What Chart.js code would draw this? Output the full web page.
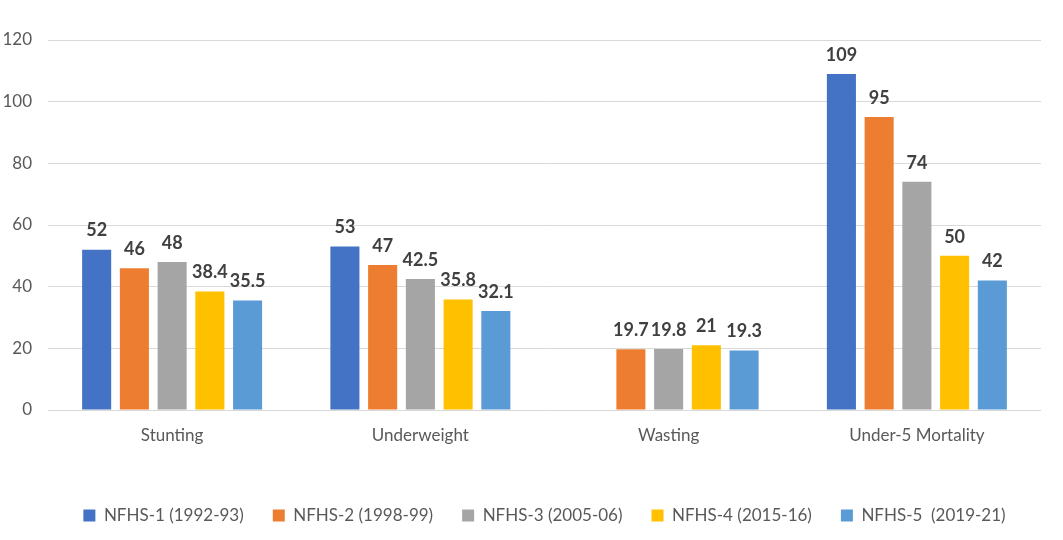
<!DOCTYPE html>
<html>
<head>
  <title>NFHS Child Nutrition</title>
  <script src="https://cdn.jsdelivr.net/npm/chart.js"></script>
  <style>
    body { margin: 0; background: #fff; }
    #wrap { width: 1063px; height: 540px; }
  </style>
</head>
<body>
  <div id="wrap"><canvas id="nfhsChart"></canvas></div>
  <script>
    const categories = ["Stunting", "Underweight", "Wasting", "Under-5 Mortality"];
    const seriesNames = ["NFHS-1 (1992-93)", "NFHS-2 (1998-99)", "NFHS-3 (2005-06)", "NFHS-4 (2015-16)", "NFHS-5  (2019-21)"];
    const nfhs1 = [52, 53, null, 109];
    const nfhs2 = [46, 47, 19.7, 95];
    const nfhs3 = [48, 42.5, 19.8, 74];
    const nfhs4 = [38.4, 35.8, 21, 50];
    const nfhs5 = [35.5, 32.1, 19.3, 42];
    const colors = ["#4472C4", "#ED7D31", "#A5A5A5", "#FFC000", "#5B9BD5"];

    const fontFamily = "Lato, 'Open Sans', sans-serif";

    // draws the value above each bar
    const valueLabels = {
      id: "valueLabels",
      afterDatasetsDraw(chart) {
        const ctx = chart.ctx;
        ctx.save();
        ctx.font = "bold 18px " + fontFamily;
        ctx.fillStyle = "#404040";
        ctx.textAlign = "center";
        ctx.textBaseline = "bottom";
        chart.data.datasets.forEach((ds, i) => {
          const meta = chart.getDatasetMeta(i);
          meta.data.forEach((bar, j) => {
            const v = ds.data[j];
            if (v === null || v === undefined) return;
            ctx.fillText(String(v), bar.x, bar.y - 10);
          });
        });
        ctx.restore();
      }
    };

    // legend sits centred under the plot area, not the whole canvas
    const legendShift = {
      id: "legendShift",
      afterLayout(chart) {
        const lg = chart.legend;
        const dx = (chart.chartArea.left + chart.chartArea.right) / 2 - (lg.left + lg.right) / 2;
        lg.left += dx;
        lg.right += dx;
      }
    };

    const allSeries = [nfhs1, nfhs2, nfhs3, nfhs4, nfhs5];

    new Chart(document.getElementById("nfhsChart"), {
      type: "bar",
      data: {
        labels: categories,
        datasets: allSeries.map((d, i) => ({
          label: seriesNames[i],
          data: d,
          backgroundColor: colors[i],
          categoryPercentage: 0.76,
          barPercentage: 0.77
        }))
      },
      options: {
        responsive: true,
        maintainAspectRatio: false,
        animation: false,
        layout: { padding: { top: 40, right: 22, left: 0, bottom: 6 } },
        plugins: {
          tooltip: { enabled: false },
          legend: {
            position: "bottom",
            labels: {
              boxWidth: 12,
              boxHeight: 12,
              padding: 29,
              color: "#595959",
              font: { family: fontFamily, size: 17 }
            }
          }
        },
        scales: {
          x: {
            grid: { display: false },
            border: { display: false },
            ticks: { color: "#595959", font: { family: fontFamily, size: 17 }, padding: 7 },
            afterFit(scale) { scale.height = 68; }
          },
          y: {
            min: 0,
            max: 120,
            ticks: { stepSize: 20, color: "#595959", font: { family: fontFamily, size: 17 }, padding: 16 },
            grid: { color: "#D9D9D9", drawTicks: false },
            border: { display: false },
            afterFit(scale) { scale.width = 48; }
          }
        }
      },
      plugins: [valueLabels, legendShift]
    });
  </script>
</body>
</html>
